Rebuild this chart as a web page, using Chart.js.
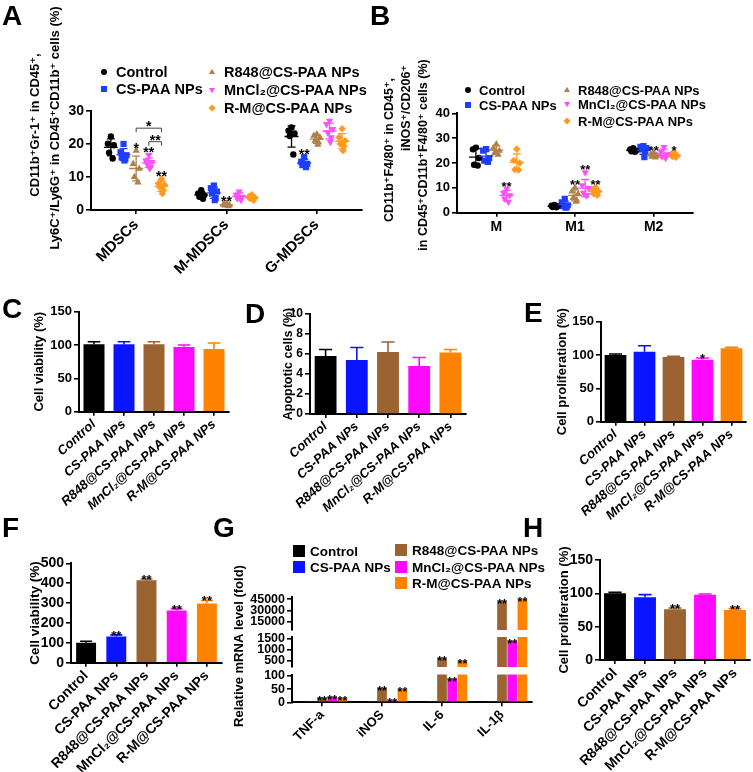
<!DOCTYPE html>
<html><head><meta charset="utf-8"><title>Figure</title>
<script src="https://cdn.jsdelivr.net/npm/chart.js@4.4.1/dist/chart.umd.min.js"></script>
<style>html,body{margin:0;padding:0;background:#fff}#wrap{position:relative;width:753px;height:772px;overflow:hidden;background:#fff}#wrap canvas{position:absolute;left:0;top:0}</style>
</head><body><div id="wrap"></div>
<script>
// ================= DATA =================
const groupNames = ['Control', 'CS-PAA NPs', 'R848@CS-PAA NPs', 'MnCl\u2082@CS-PAA NPs', 'R-M@CS-PAA NPs'];

// Panel A (individual points per group, per category)
const aCategories = ['MDSCs', 'M-MDSCs', 'G-MDSCs'];
const aControl = [[22.3, 20.1, 19.6, 17.4, 15.6], [6.0, 5.0, 4.5, 4.0, 3.4], [25.0, 24.0, 23.2, 22.4, 16.8]];
const aCSPAA   = [[20.0, 17.5, 16.6, 16.0, 15.5, 15.0], [7.4, 6.6, 5.6, 5.0, 3.6, 3.0], [16.0, 14.6, 14.0, 13.6, 13.0]];
const aR848    = [[18.0, 14.0, 12.5, 10.0, 8.4], [1.9, 1.7, 1.5, 1.4, 1.2], [23.0, 22.5, 22.0, 21.0, 20.5, 19.8]];
const aMnCl2   = [[16.6, 15.0, 14.5, 14.0, 13.0, 12.6], [5.6, 4.6, 4.0, 3.5, 3.0], [27.0, 26.0, 24.5, 23.5, 22.0, 20.6]];
const aRM      = [[9.4, 8.0, 7.6, 7.0, 6.0, 5.0], [4.6, 4.0, 3.8, 3.5, 3.0], [24.6, 22.0, 21.0, 20.0, 19.4, 18.0]];
const aStars = [{g: 2, c: 0, t: '*'}, {g: 3, c: 0, t: '**'}, {g: 4, c: 0, t: '**'}, {g: 2, c: 1, t: '**'}, {g: 1, c: 2, t: '**'}];
const aBrackets = [{g1: 2, g2: 4, c: 0, y: 24.8, t: '*'}, {g1: 3, g2: 4, c: 0, y: 20.7, t: '**'}];

// Panel B
const bCategories = ['M', 'M1', 'M2'];
const bControl = [[26.2, 25.5, 22.0, 19.3, 19.0], [3.1, 2.8, 2.6, 2.3, 2.2], [26.0, 25.5, 25.0, 24.7, 24.5]];
const bCSPAA   = [[25.6, 25.0, 22.0, 21.0, 20.4], [5.6, 4.2, 3.0, 2.6, 2.2, 2.0], [26.8, 26.5, 26.0, 25.5, 24.0, 22.4]];
const bR848    = [[27.6, 26.0, 25.0, 24.0, 23.4], [10.2, 8.6, 7.5, 6.0, 5.0, 4.4], [24.2, 23.5, 23.0, 22.6, 22.3]];
const bMnCl2   = [[9.6, 8.0, 7.0, 5.6, 4.4], [16.2, 11.0, 10.0, 8.0, 7.0, 7.0], [26.4, 24.6, 23.5, 22.6, 22.0]];
const bRM      = [[25.6, 21.0, 20.0, 17.4, 17.2], [10.2, 9.0, 8.6, 7.6, 7.0], [24.2, 23.6, 23.0, 22.6, 22.3]];
const bStars = [{g: 3, c: 0, t: '**'}, {g: 2, c: 1, t: '**'}, {g: 3, c: 1, t: '**'}, {g: 4, c: 1, t: '**'}, {g: 2, c: 2, t: '**'}, {g: 4, c: 2, t: '*'}];

// Bar panels (mean and SD)
const cViability = [101, 101, 101, 97, 94];      const cSD = [4, 4, 4, 3, 9];
const dApoptotic = [5.8, 5.4, 6.2, 4.8, 6.15];   const dSD = [0.65, 1.25, 1.0, 0.85, 0.3];
const eProliferation = [100, 105, 97, 93, 110];  const eSD = [1.5, 9, 1, 2.5, 1.5];
const eStars = ['', '', '', '*', ''];
const fViability = [100, 132, 415, 262, 298];    const fSD = [8, 8, 6, 10, 15];
const fStars = ['', '**', '**', '**', '**'];
const hProliferation = [100, 94, 76, 98, 75];    const hSD = [1.5, 4, 2, 1, 2];
const hStars = ['', '', '**', '', '**'];

// Panel G (broken axis)
const gGenes = ['TNF-a', 'iNOS', 'IL-6', 'IL-1\u03b2'];
const gControl = [1, 1, 1, 1];
const gCSPAA   = [1.2, 1.5, 1.3, 1.1];
const gR848    = [17, 54, 610, 42300];
const gMnCl2   = [19.6, 7.4, 89, 1410];
const gRM      = [17.6, 49, 490, 45000];
const gStars = [['', '', '', ''], ['', '', '', ''], ['**', '**', '**', '**'], ['**', '**', '**', '**'], ['**', '**', '**', '**']];
const gTicksTop = [15000, 30000, 45000];
const gTicksMid = [500, 1000, 1500];
const gTicksBot = [0, 50, 100];

// ================= STYLE =================
const FONT = "'Liberation Sans', Arial, 'DejaVu Sans', sans-serif";
Chart.defaults.font.family = FONT;
Chart.defaults.color = '#000';
const BAR_COLORS = ['#000000', '#0a14ff', '#9b6332', '#ff0aff', '#ff8200'];
const SC_COLORS = ['#000000', '#1f3fff', '#b0804d', '#ff4dff', '#ff9a1f'];
const PSTYLE = ['circle', 'rect', 'triangle', 'triangle', 'rectRot'];
const PROT = [0, 0, 0, 180, 0];
const PRAD = [3.2, 4.4, 4.2, 4.2, 3.8];
const JIT = [0, -1, 1, -0.6, 0.6, 0.3];

const wrap = document.getElementById('wrap');
function mkCanvas() {
  const c = document.createElement('canvas');
  c.width = 753; c.height = 772; c.style.width = '753px'; c.style.height = '772px';
  wrap.appendChild(c); return c;
}
function pad(plot, yW, xH) { return {left: plot.l - yW, top: plot.t, right: 753 - plot.r, bottom: Math.max(0, 772 - plot.b - xH)}; }

function yLin(o) {
  const s = {
    type: 'linear', min: o.min, max: o.max,
    afterFit: sc => { sc.width = o.yW; sc.paddingTop = 0; sc.paddingBottom = 0; },
    ticks: {stepSize: o.step, color: '#000', font: {family: FONT, size: o.fs, weight: 'bold'}, padding: 2, autoSkip: false, callback: v => String(v)},
    grid: {drawOnChartArea: false, drawTicks: true, tickLength: 5, color: '#000', lineWidth: 1.6},
    border: {color: '#000', width: 2},
    title: o.title ? {display: true, text: o.title, color: '#000', font: {family: FONT, size: o.ts, weight: 'bold'}, padding: 0} : {display: false}
  };
  if (o.ticksList) s.afterBuildTicks = sc => { sc.ticks = o.ticksList.map(v => ({value: v})); };
  return s;
}
function xCatScale(o) {
  return {
    type: 'category', offset: true, display: o.display !== false,
    afterFit: sc => { sc.height = o.xH || 0; sc.paddingLeft = 0; sc.paddingRight = 0; },
    ticks: {color: '#000', font: {family: FONT, size: o.fs || 12, weight: 'bold', style: o.italic ? 'italic' : 'normal'}, minRotation: o.rot || 0, maxRotation: o.rot || 0, autoSkip: false, padding: 1},
    grid: {offset: false, drawOnChartArea: false, drawTicks: true, tickLength: 4, color: '#000', lineWidth: 1.6},
    border: {color: '#000', width: 2}
  };
}
function letterPlugin(letter, x, y) {
  return {id: 'letter', afterDraw(ch) {
    const ctx = ch.ctx; ctx.save();
    ctx.font = 'bold 28px ' + FONT; ctx.fillStyle = '#000'; ctx.textAlign = 'left'; ctx.textBaseline = 'alphabetic';
    ctx.fillText(letter, x, y); ctx.restore();
  }};
}
function textsPlugin(texts) {
  return {id: 'texts', afterDraw(ch) {
    const ctx = ch.ctx;
    texts.forEach(t => {
      ctx.save(); ctx.translate(t.x, t.y); ctx.rotate(-Math.PI / 2);
      ctx.font = 'bold ' + t.size + 'px ' + FONT; ctx.fillStyle = '#000';
      ctx.textAlign = 'center'; ctx.textBaseline = 'middle';
      ctx.fillText(t.t, 0, 0); ctx.restore();
    });
  }};
}
function marker(ctx, style, rot, x, y, r, color) {
  ctx.save(); ctx.fillStyle = color; ctx.beginPath();
  if (style === 'circle') ctx.arc(x, y, r, 0, Math.PI * 2);
  else if (style === 'rect') ctx.rect(x - r, y - r, 2 * r, 2 * r);
  else if (style === 'rectRot') { ctx.moveTo(x, y - r * 1.2); ctx.lineTo(x + r * 1.2, y); ctx.lineTo(x, y + r * 1.2); ctx.lineTo(x - r * 1.2, y); ctx.closePath(); }
  else if (style === 'triangle') {
    const s = rot === 180 ? -1 : 1;
    ctx.moveTo(x, y - s * r * 1.1); ctx.lineTo(x + r, y + s * r * 0.7); ctx.lineTo(x - r, y + s * r * 0.7); ctx.closePath();
  } else ctx.rect(x - r, y - r, 2 * r, 2 * r);
  ctx.fill(); ctx.restore();
}
function legendPlugin(items, size, gap, kind) {
  return {id: 'legend2', afterDraw(ch) {
    const ctx = ch.ctx;
    items.forEach(it => {
      if (kind === 'box') {
        ctx.save(); ctx.fillStyle = BAR_COLORS[it.g]; ctx.fillRect(it.x - 6, it.y - 6, 12, 12); ctx.restore();
      } else {
        marker(ctx, PSTYLE[it.g], PROT[it.g], it.x, it.y, 3, SC_COLORS[it.g]);
      }
      ctx.save(); ctx.font = 'bold ' + size + 'px ' + FONT; ctx.fillStyle = '#000';
      ctx.textAlign = 'left'; ctx.textBaseline = 'middle';
      ctx.fillText(groupNames[it.g], it.x + gap, it.y + 1); ctx.restore();
    });
  }};
}

// ================= BAR PANELS =================
function barPanel(o) {
  const c = mkCanvas();
  new Chart(c, {
    type: 'bar',
    data: {labels: groupNames, datasets: [{data: o.values, backgroundColor: BAR_COLORS, borderWidth: 0, barPercentage: o.bp, categoryPercentage: 1}]},
    options: {
      responsive: false, animation: false, events: [],
      layout: {padding: pad(o.plot, o.yW, o.xH)},
      plugins: {legend: {display: false}, tooltip: {enabled: false}},
      scales: {
        x: xCatScale({fs: o.xfs, rot: o.rot, italic: o.italic, xH: o.xH}),
        y: yLin({min: 0, max: o.max, step: o.step, fs: o.yfs, yW: o.yW, title: o.title, ts: o.ts})
      }
    },
    plugins: [{id: 'err', afterDatasetsDraw(ch) {
      const ctx = ch.ctx, ys = ch.scales.y, meta = ch.getDatasetMeta(0);
      meta.data.forEach((bar, i) => {
        const top = ys.getPixelForValue(o.values[i] + o.sd[i]);
        const w = bar.width * 0.3;
        ctx.save(); ctx.strokeStyle = BAR_COLORS[i]; ctx.lineWidth = 1.6;
        ctx.beginPath(); ctx.moveTo(bar.x, bar.y); ctx.lineTo(bar.x, top);
        ctx.moveTo(bar.x - w, top); ctx.lineTo(bar.x + w, top); ctx.stroke();
        if (o.stars && o.stars[i]) {
          ctx.fillStyle = '#000'; ctx.font = 'bold 13px ' + FONT; ctx.textAlign = 'center'; ctx.textBaseline = 'alphabetic';
          ctx.fillText(o.stars[i], bar.x, top + 5);
        }
        ctx.restore();
      });
    }}, letterPlugin(o.letter, o.lx, o.ly)]
  });
}

barPanel({values: cViability, sd: cSD, plot: {l: 79, r: 229, t: 311.7, b: 411.7}, yW: 47.8, xH: 120, max: 150, step: 50, yfs: 13,
  xfs: 13, rot: 42, italic: true, title: 'Cell viability (%)', ts: 13, bp: 0.7, letter: 'C', lx: 2, ly: 318});
barPanel({values: dApoptotic, sd: dSD, plot: {l: 310, r: 466, t: 314, b: 414}, yW: 28.5, xH: 120, max: 10, step: 2, yfs: 12,
  xfs: 13, rot: 42, italic: true, title: 'Apoptotic cells (%)', ts: 12.5, bp: 0.7, letter: 'D', lx: 245, ly: 323});
barPanel({values: eProliferation, sd: eSD, stars: eStars, plot: {l: 601, r: 746, t: 321.7, b: 421.7}, yW: 46.8, xH: 120, max: 150, step: 50, yfs: 13,
  xfs: 13, rot: 42, italic: true, title: 'Cell proliferation (%)', ts: 13, bp: 0.75, letter: 'E', lx: 524, ly: 322});
barPanel({values: fViability, sd: fSD, stars: fStars, plot: {l: 71, r: 222, t: 563.3, b: 662.7}, yW: 44, xH: 109, max: 500, step: 100, yfs: 14,
  xfs: 14, rot: 45, italic: false, title: 'Cell viability (%)', ts: 13.5, bp: 0.66, letter: 'F', lx: 2, ly: 537});
barPanel({values: hProliferation, sd: hSD, stars: hStars, plot: {l: 600, r: 750, t: 560, b: 660}, yW: 43.8, xH: 112, max: 150, step: 50, yfs: 14,
  xfs: 14, rot: 45, italic: false, title: 'Cell proliferation (%)', ts: 13, bp: 0.73, letter: 'H', lx: 523, ly: 537});

// ================= SCATTER PANELS =================
function scatterPanel(o) {
  const c = mkCanvas();
  const pos = (ci, g) => ci + 0.5 + o.offsets[g];
  const datasets = o.series.map((vals, g) => {
    const pts = [];
    vals.forEach((arr, ci) => arr.forEach((v, i) => pts.push({x: pos(ci, g) + JIT[i % JIT.length] * o.jit, y: v})));
    return {data: pts, showLine: false, pointStyle: PSTYLE[g], pointRotation: PROT[g], pointRadius: PRAD[g],
      pointBackgroundColor: SC_COLORS[g], pointBorderColor: SC_COLORS[g], pointBorderWidth: 0};
  });
  const stats = arr => {
    const m = arr.reduce((a, b) => a + b, 0) / arr.length;
    const sd = Math.sqrt(arr.reduce((a, b) => a + (b - m) * (b - m), 0) / (arr.length - 1));
    return {m, sd};
  };
  new Chart(c, {
    type: 'scatter', data: {datasets},
    options: {
      responsive: false, animation: false, events: [],
      layout: {padding: pad(o.plot, o.yW, o.xH)},
      plugins: {legend: {display: false}, tooltip: {enabled: false}},
      scales: {
        x: {type: 'linear', min: 0, max: o.cats.length,
          afterBuildTicks: sc => { sc.ticks = o.cats.map((_, i) => ({value: i + 0.5})); },
          afterFit: sc => { sc.height = o.xH; sc.paddingLeft = 0; sc.paddingRight = 0; },
          ticks: {callback: v => o.cats[Math.round(v - 0.5)], autoSkip: false, minRotation: o.rot, maxRotation: o.rot, color: '#000',
            font: {family: FONT, size: o.xfs, weight: 'bold'}, padding: 2},
          grid: {drawOnChartArea: false, drawTicks: true, tickLength: 4, color: '#000', lineWidth: 1.6},
          border: {color: '#000', width: 2}},
        y: yLin({min: 0, max: o.max, step: 10, fs: o.yfs, yW: o.yW})
      }
    },
    plugins: [{id: 'meansd', afterDatasetsDraw(ch) {
      const ctx = ch.ctx, xs = ch.scales.x, ys = ch.scales.y;
      o.series.forEach((vals, g) => vals.forEach((arr, ci) => {
        const {m, sd} = stats(arr);
        const px = xs.getPixelForValue(pos(ci, g));
        const pm = ys.getPixelForValue(m), pt = ys.getPixelForValue(m + sd), pb = ys.getPixelForValue(m - sd);
        ctx.save(); ctx.strokeStyle = SC_COLORS[g]; ctx.lineWidth = 1.3; ctx.beginPath();
        ctx.moveTo(px - 7, pm); ctx.lineTo(px + 7, pm);
        ctx.moveTo(px, pt); ctx.lineTo(px, pb);
        ctx.moveTo(px - 4, pt); ctx.lineTo(px + 4, pt);
        ctx.moveTo(px - 4, pb); ctx.lineTo(px + 4, pb);
        ctx.stroke(); ctx.restore();
      }));
      ctx.save(); ctx.fillStyle = '#000'; ctx.font = 'bold ' + o.starSize + 'px ' + FONT; ctx.textAlign = 'center'; ctx.textBaseline = 'alphabetic';
      o.stars.forEach(s => {
        const arr = o.series[s.g][s.c]; const {m, sd} = stats(arr);
        const topV = Math.max(Math.max(...arr), m + sd);
        ctx.fillText(s.t, xs.getPixelForValue(pos(s.c, s.g)), ys.getPixelForValue(topV) + 2);
      });
      ctx.restore();
      (o.brackets || []).forEach(b => {
        const py = ys.getPixelForValue(b.y);
        const x1 = xs.getPixelForValue(pos(b.c, b.g1)), x2 = xs.getPixelForValue(pos(b.c, b.g2));
        ctx.save(); ctx.strokeStyle = '#444'; ctx.lineWidth = 1; ctx.beginPath();
        ctx.moveTo(x1, py + 4); ctx.lineTo(x1, py); ctx.lineTo(x2, py); ctx.lineTo(x2, py + 4); ctx.stroke();
        ctx.fillStyle = '#000'; ctx.font = 'bold ' + o.starSize + 'px ' + FONT; ctx.textAlign = 'center'; ctx.textBaseline = 'alphabetic';
        ctx.fillText(b.t, (x1 + x2) / 2, py + 3); ctx.restore();
      });
    }}, legendPlugin(o.legend, o.legSize, o.legGap, 'marker'), textsPlugin(o.titles), letterPlugin(o.letter, o.lx, o.ly)]
  });
}

scatterPanel({cats: aCategories, series: [aControl, aCSPAA, aR848, aMnCl2, aRM], offsets: [-0.28, -0.14, 0, 0.14, 0.28], jit: 0.033,
  plot: {l: 91, r: 362, t: 111, b: 210}, yW: 40, xH: 80, max: 30, yfs: 14, xfs: 15, rot: 45,
  stars: aStars, brackets: aBrackets, starSize: 14,
  legend: [{g: 0, x: 104, y: 72}, {g: 1, x: 104, y: 89}, {g: 2, x: 212, y: 72}, {g: 3, x: 212, y: 90}, {g: 4, x: 212, y: 108}], legSize: 14.5, legGap: 12,
  titles: [{t: 'CD11b\u207aGr-1\u207a in CD45\u207a,', x: 35, y: 125, size: 13}, {t: 'Ly6C\u207a/Ly6G\u207a in CD45\u207aCD11b\u207a cells (%)', x: 55, y: 128, size: 13}],
  letter: 'A', lx: 2, ly: 25});

scatterPanel({cats: bCategories, series: [bControl, bCSPAA, bR848, bMnCl2, bRM], offsets: [-0.26, -0.13, 0, 0.13, 0.26], jit: 0.038,
  plot: {l: 457, r: 693, t: 113.3, b: 212.7}, yW: 30, xH: 30, max: 40, yfs: 13, xfs: 14, rot: 0,
  stars: bStars, starSize: 13,
  legend: [{g: 0, x: 468, y: 90}, {g: 1, x: 468, y: 105}, {g: 2, x: 567, y: 90}, {g: 3, x: 567, y: 104}, {g: 4, x: 567, y: 121}], legSize: 13, legGap: 11,
  titles: [{t: 'CD11b\u207aF4/80\u207a in CD45\u207a,', x: 390, y: 150, size: 12.5}, {t: 'iNOS\u207a/CD206\u207a', x: 407, y: 108, size: 12.5},
           {t: 'in CD45\u207aCD11b\u207aF4/80\u207a cells (%)', x: 424, y: 155, size: 12.5}],
  letter: 'B', lx: 370, ly: 25});

// ================= PANEL G (three stacked segments) =================
function gSegment(s) {
  const c = mkCanvas();
  const series = [gControl, gCSPAA, gR848, gMnCl2, gRM];
  const plugins = [{id: 'gstars', afterDatasetsDraw(ch) {
    const ctx = ch.ctx, ys = ch.scales.y;
    ctx.save(); ctx.fillStyle = '#000'; ctx.font = 'bold 12.5px ' + FONT; ctx.textAlign = 'center'; ctx.textBaseline = 'alphabetic';
    series.forEach((vals, g) => {
      const meta = ch.getDatasetMeta(g);
      vals.forEach((v, i) => {
        if (gStars[g][i] && v >= s.min && v <= s.max) ctx.fillText(gStars[g][i], meta.data[i].x, ys.getPixelForValue(v) + 7);
      });
    });
    ctx.restore();
  }}];
  if (s.extras) {
    plugins.push(legendPlugin([{g: 0, x: 299, y: 551}, {g: 1, x: 299, y: 567}, {g: 2, x: 401, y: 550}, {g: 3, x: 401, y: 567}, {g: 4, x: 401, y: 583}], 13.5, 11, 'box'));
    plugins.push(textsPlugin([{t: 'Relative mRNA level (fold)', x: 239, y: 646, size: 13}]));
    plugins.push(letterPlugin('G', 213, 537));
  }
  new Chart(c, {
    type: 'bar',
    data: {labels: gGenes, datasets: series.map((vals, g) => ({data: vals, backgroundColor: BAR_COLORS[g], borderWidth: 0,
      categoryPercentage: 0.85, barPercentage: 0.95, clip: 0}))},
    options: {
      responsive: false, animation: false, events: [],
      layout: {padding: pad({l: 292, r: 532, t: s.t, b: s.b}, 50, s.showX ? 60 : 0)},
      plugins: {legend: {display: false}, tooltip: {enabled: false}},
      scales: {
        x: xCatScale({display: s.showX, fs: 13, rot: 45, xH: s.showX ? 60 : 0}),
        y: yLin({min: s.min, max: s.max, fs: 12.5, yW: 50, ticksList: s.ticks})
      }
    },
    plugins
  });
}
gSegment({min: 4000, max: 48000, ticks: gTicksTop, t: 597, b: 630, showX: false});
gSegment({min: 210, max: 1590, ticks: gTicksMid, t: 637, b: 667, showX: false});
gSegment({min: 0, max: 105, ticks: gTicksBot, t: 674.5, b: 702.3, showX: true, extras: true});
</script></body></html>
